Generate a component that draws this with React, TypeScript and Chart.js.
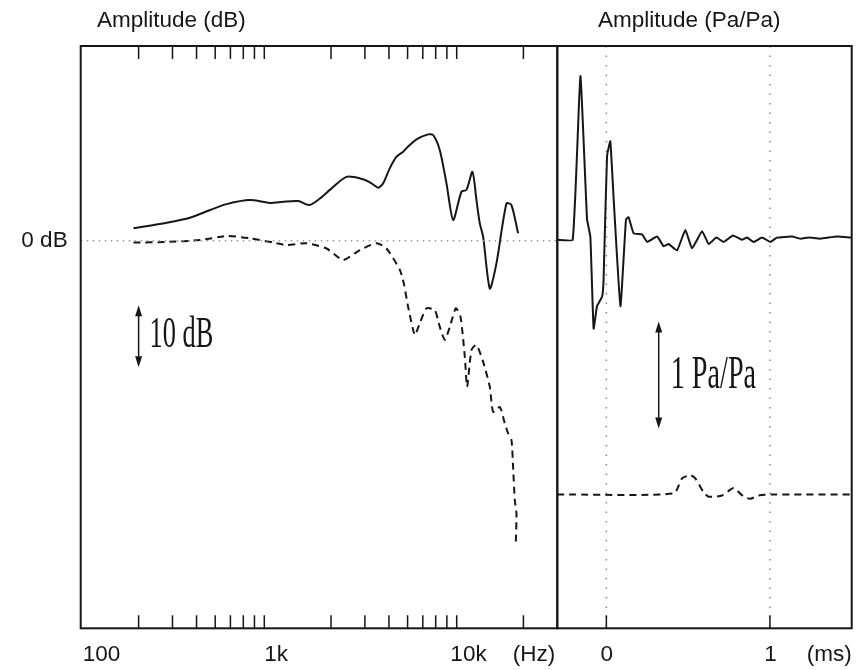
import React, { useEffect, useRef } from "react";
import { Chart, registerables } from "chart.js";

Chart.register(...registerables);

const W = 863;
const H = 670;
const INK = "#161616";
const SANS = '"Liberation Sans", Arial, sans-serif';
const SERIF = '"Liberation Serif", "Times New Roman", serif';

// ---------- Left panel: frequency response ----------
const F_MIN = 100;
const F_MAX = 30000;
const DB_MIN = -62.5;
const DB_MAX = 31.4;

const FREQ_SOLID = [188, 280, 370, 470, 573, 758, 963, 1129, 1350, 1541, 1751, 1973, 2408, 2939, 3247, 3517, 3734, 4044, 4380, 4743, 5035, 5563, 6396, 6790, 7354, 7964, 8626, 9528, 10116, 10869, 11403, 11866, 12347, 13375, 14484, 16323, 17330, 18768];
const DB_SOLID = [2.0, 2.9, 3.7, 4.95, 5.9, 6.55, 6.1, 6.3, 6.4, 5.75, 6.8, 8.2, 10.3, 9.9, 9.25, 8.55, 9.25, 11.7, 13.55, 14.35, 15.2, 16.35, 17.15, 17.05, 14.6, 9.25, 3.35, 7.9, 8.2, 11.1, 6.55, 2.8, 0.65, -7.7, -3.65, 6.0, 5.75, 1.2];

const FREQ_DASHED = [188, 280, 417, 573, 758, 1002, 1175, 1493, 1896, 2314, 2824, 3447, 3886, 4557, 4780, 5032, 5452, 5788, 6272, 6928, 7354, 7807, 8288, 8906, 9419, 9917, 10193, 10745, 11405, 12344, 13375, 13912, 15077, 16001, 16645, 17338, 17673, 18035, 18404, 18251];
const DB_DASHED = [-0.3, -0.2, 0.1, 0.75, 0.4, -0.3, -0.7, -0.4, -1.25, -3.1, -1.5, -0.4, -1.25, -4.7, -6.9, -10.65, -15.2, -13.3, -10.9, -11.2, -13.9, -16.0, -13.9, -10.9, -12.25, -18.7, -23.55, -17.6, -16.8, -19.5, -23.55, -27.6, -26.8, -29.45, -31.05, -32.15, -36.45, -41.8, -44.0, -48.8];

const ZERO_LINE_FREQ = [100, 30000];
const ZERO_LINE_DB = [0, 0];

const FREQ_TICKS = [200, 300, 400, 500, 600, 700, 800, 900, 2000, 3000, 4000, 5000, 6000, 7000, 8000, 9000, 20000];
const FREQ_LABEL_VALUES = [100, 1000, 10000];
const FREQ_LABEL_TEXT = ["100", "1k", "10k"];

const ARROW_DB_FREQ = 200;
const ARROW_DB_TOP = -10.4;
const ARROW_DB_SPAN = 10;

// ---------- Right panel: impulse response ----------
const T_MIN = -0.3;
const T_MAX = 1.5;
const PA_MIN = -3.63;
const PA_MAX = 1.81;

const TIME_SOLID = [-0.3, -0.206, -0.159, -0.118, -0.098, -0.078, -0.057, -0.026, -0.017, 0.004, 0.024, 0.045, 0.086, 0.12, 0.136, 0.167, 0.218, 0.249, 0.31, 0.35, 0.381, 0.432, 0.483, 0.524, 0.585, 0.625, 0.672, 0.717, 0.774, 0.829, 0.86, 0.9, 0.952, 1.002, 1.043, 1.135, 1.186, 1.237, 1.308, 1.41, 1.5];
const PA_SOLID = [0, 0, 1.53, 0.19, 0.03, -0.83, -0.62, -0.53, -0.37, 0.78, 0.92, 0.37, -0.62, 0.19, 0.21, 0.06, 0.05, -0.02, 0.03, -0.06, -0.04, -0.1, 0.09, -0.08, 0.08, -0.04, 0.02, -0.02, 0.04, 0, 0.02, -0.02, 0.02, -0.02, 0.02, 0.03, 0.01, 0.02, 0.01, 0.03, 0.02];

const TIME_DASHED = [-0.3, 0.411, 0.463, 0.513, 0.544, 0.595, 0.625, 0.707, 0.778, 0.839, 0.88, 0.931, 1.013, 1.5];
const PA_DASHED = [0, 0.01, 0.15, 0.18, 0.15, 0.02, -0.02, -0.01, 0.06, -0.02, -0.04, -0.01, 0, 0];
const DASHED_OFFSET = -2.38;

const TIME_GRID = [0, 1];
const TIME_TICKS = [0, 1];
const TIME_LABEL_TEXT = ["0", "1"];

const ARROW_PA_TIME = 0.32;
const ARROW_PA_TOP = -0.764;
const ARROW_PA_SPAN = 1;

// ---------- helpers ----------
function toXY(xs: number[], ys: number[], offset = 0) {
  return xs.map((x, i) => ({ x, y: ys[i] + offset }));
}

function drawArrow(ctx: CanvasRenderingContext2D, x: number, y1: number, y2: number) {
  ctx.save();
  ctx.strokeStyle = INK;
  ctx.fillStyle = INK;
  ctx.lineWidth = 1.5;
  ctx.beginPath();
  ctx.moveTo(x, y1 + 6);
  ctx.lineTo(x, y2 - 6);
  ctx.stroke();
  ctx.beginPath();
  ctx.moveTo(x, y1);
  ctx.lineTo(x - 3.5, y1 + 11);
  ctx.lineTo(x + 3.5, y1 + 11);
  ctx.closePath();
  ctx.fill();
  ctx.beginPath();
  ctx.moveTo(x, y2);
  ctx.lineTo(x - 3.5, y2 - 11);
  ctx.lineTo(x + 3.5, y2 - 11);
  ctx.closePath();
  ctx.fill();
  ctx.restore();
}

function drawCondensed(ctx: CanvasRenderingContext2D, text: string, x: number, baseline: number, size: number, sx: number) {
  ctx.save();
  ctx.translate(x, baseline);
  ctx.scale(sx, 1);
  ctx.font = `${size}px ${SERIF}`;
  ctx.fillStyle = INK;
  ctx.textAlign = "left";
  ctx.textBaseline = "alphabetic";
  ctx.fillText(text, 0, 0);
  ctx.restore();
}

const leftDecor = {
  id: "leftDecor",
  afterDraw(chart: any) {
    const { ctx, chartArea: a, scales } = chart;
    const xs = scales.x;
    const ys = scales.y;
    ctx.save();
    ctx.strokeStyle = INK;
    ctx.lineWidth = 2;
    ctx.strokeRect(a.left, a.top, a.right - a.left, a.bottom - a.top);
    ctx.lineWidth = 1.5;
    for (const v of FREQ_TICKS) {
      const px = xs.getPixelForValue(v);
      ctx.beginPath();
      ctx.moveTo(px, a.top);
      ctx.lineTo(px, a.top + 13);
      ctx.moveTo(px, a.bottom);
      ctx.lineTo(px, a.bottom - 13);
      ctx.stroke();
    }
    ctx.fillStyle = INK;
    ctx.font = `22.5px ${SANS}`;
    ctx.textBaseline = "alphabetic";
    FREQ_LABEL_VALUES.forEach((v, i) => {
      const px = xs.getPixelForValue(v);
      if (i === 0) {
        ctx.textAlign = "left";
        ctx.fillText(FREQ_LABEL_TEXT[i], px + 2, 661);
      } else {
        ctx.textAlign = "center";
        ctx.fillText(FREQ_LABEL_TEXT[i], px + 3, 661);
      }
    });
    ctx.textAlign = "right";
    ctx.fillText("(Hz)", a.right - 2, 661);
    ctx.textAlign = "left";
    ctx.fillText("Amplitude (dB)", 97, 27);
    ctx.textAlign = "center";
    ctx.textBaseline = "middle";
    ctx.fillText("0 dB", 44.5, ys.getPixelForValue(0));
    ctx.restore();

    const ax = xs.getPixelForValue(ARROW_DB_FREQ);
    const ay1 = ys.getPixelForValue(ARROW_DB_TOP);
    const ay2 = ys.getPixelForValue(ARROW_DB_TOP - ARROW_DB_SPAN);
    drawArrow(ctx, ax, ay1, ay2);
    drawCondensed(ctx, "10 dB", ax + 11, (ay1 + ay2) / 2 + 11, 44, 0.6);
  },
};

const rightDecor = {
  id: "rightDecor",
  beforeDatasetsDraw(chart: any) {
    const { ctx, chartArea: a, scales } = chart;
    const xs = scales.x;
    ctx.save();
    ctx.strokeStyle = "#8a8a8a";
    ctx.lineWidth = 1.5;
    ctx.setLineDash([1.5, 8]);
    for (const v of TIME_GRID) {
      const px = xs.getPixelForValue(v);
      ctx.beginPath();
      ctx.moveTo(px, a.top);
      ctx.lineTo(px, a.bottom);
      ctx.stroke();
    }
    ctx.restore();
  },
  afterDraw(chart: any) {
    const { ctx, chartArea: a, scales } = chart;
    const xs = scales.x;
    const ys = scales.y;
    ctx.save();
    ctx.strokeStyle = INK;
    ctx.lineWidth = 2;
    ctx.strokeRect(a.left, a.top, a.right - a.left, a.bottom - a.top);
    ctx.lineWidth = 1.5;
    for (const v of TIME_TICKS) {
      const px = xs.getPixelForValue(v);
      ctx.beginPath();
      ctx.moveTo(px, a.bottom);
      ctx.lineTo(px, a.bottom - 13);
      ctx.stroke();
    }
    ctx.fillStyle = INK;
    ctx.font = `22.5px ${SANS}`;
    ctx.textBaseline = "alphabetic";
    ctx.textAlign = "center";
    TIME_TICKS.forEach((v, i) => {
      ctx.fillText(TIME_LABEL_TEXT[i], xs.getPixelForValue(v) + 0.5, 661);
    });
    ctx.textAlign = "right";
    ctx.fillText("(ms)", a.right, 661);
    ctx.textAlign = "left";
    ctx.fillText("Amplitude (Pa/Pa)", 598, 27);
    ctx.restore();

    const ax = xs.getPixelForValue(ARROW_PA_TIME);
    const ay1 = ys.getPixelForValue(ARROW_PA_TOP);
    const ay2 = ys.getPixelForValue(ARROW_PA_TOP - ARROW_PA_SPAN);
    drawArrow(ctx, ax, ay1, ay2);
    drawCondensed(ctx, "1 Pa/Pa", ax + 12, (ay1 + ay2) / 2 + 13, 47, 0.6);
  },
};

const hiddenScale = { display: false };

export default function App() {
  const leftRef = useRef<HTMLCanvasElement | null>(null);
  const rightRef = useRef<HTMLCanvasElement | null>(null);

  useEffect(() => {
    const left = new Chart(leftRef.current as HTMLCanvasElement, {
      type: "line",
      data: {
        datasets: [
          {
            data: toXY(ZERO_LINE_FREQ, ZERO_LINE_DB),
            borderColor: "#9c9c9c",
            borderWidth: 1.5,
            borderDash: [1.5, 4.5],
            pointRadius: 0,
            tension: 0,
          },
          {
            data: toXY(FREQ_SOLID, DB_SOLID),
            borderColor: INK,
            borderWidth: 2,
            pointRadius: 0,
            tension: 0.25,
          },
          {
            data: toXY(FREQ_DASHED, DB_DASHED),
            borderColor: INK,
            borderWidth: 2,
            borderDash: [7, 5],
            pointRadius: 0,
            tension: 0.2,
          },
        ],
      },
      options: {
        responsive: false,
        animation: false,
        parsing: false as any,
        layout: { autoPadding: false, padding: { left: 80.7, right: W - 557.3, top: 46, bottom: H - 628.3 } },
        plugins: { legend: { display: false }, tooltip: { enabled: false } },
        events: [],
        scales: {
          x: { type: "logarithmic", min: F_MIN, max: F_MAX, ...hiddenScale },
          y: { type: "linear", min: DB_MIN, max: DB_MAX, ...hiddenScale },
        },
      },
      plugins: [leftDecor],
    });

    const right = new Chart(rightRef.current as HTMLCanvasElement, {
      type: "line",
      data: {
        datasets: [
          {
            data: toXY(TIME_SOLID, PA_SOLID),
            borderColor: INK,
            borderWidth: 2,
            pointRadius: 0,
            tension: 0.12,
          },
          {
            data: toXY(TIME_DASHED, PA_DASHED, DASHED_OFFSET),
            borderColor: INK,
            borderWidth: 2,
            borderDash: [7, 5],
            pointRadius: 0,
            tension: 0.2,
          },
        ],
      },
      options: {
        responsive: false,
        animation: false,
        parsing: false as any,
        layout: { autoPadding: false, padding: { left: 557.3, right: W - 851.7, top: 46, bottom: H - 628.3 } },
        plugins: { legend: { display: false }, tooltip: { enabled: false } },
        events: [],
        scales: {
          x: { type: "linear", min: T_MIN, max: T_MAX, ...hiddenScale },
          y: { type: "linear", min: PA_MIN, max: PA_MAX, ...hiddenScale },
        },
      },
      plugins: [rightDecor],
    });

    return () => {
      left.destroy();
      right.destroy();
    };
  }, []);

  const canvasStyle: React.CSSProperties = { position: "absolute", left: 0, top: 0, display: "block" };
  return (
    <div style={{ position: "fixed", left: 0, top: 0, width: W, height: H, background: "#fff", overflow: "hidden" }}>
      <canvas ref={leftRef} width={W} height={H} style={canvasStyle} />
      <canvas ref={rightRef} width={W} height={H} style={canvasStyle} />
    </div>
  );
}
